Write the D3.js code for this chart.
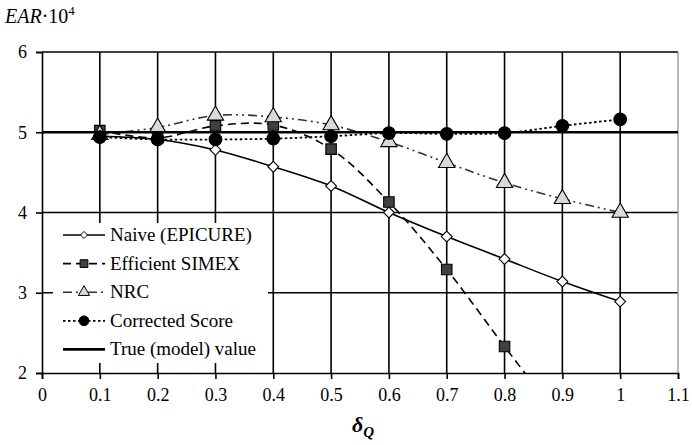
<!DOCTYPE html>
<html>
<head>
<meta charset="utf-8">
<script src="https://cdnjs.cloudflare.com/ajax/libs/d3/7.8.5/d3.min.js"></script>
<style>
  body { margin: 0; background: #fff; }
  svg text { font-family: "Liberation Serif", "Times New Roman", Times, serif !important; }
</style>
</head>
<body>
<div id="chart"></div>
<script>
// data
var deltaQ = [0.1, 0.2, 0.3, 0.4, 0.5, 0.6, 0.7, 0.8, 0.9, 1.0];
var naive = [4.95, 4.91, 4.78, 4.57, 4.33, 4.0, 3.70, 3.42, 3.14, 2.89];
var simexX = [0.1, 0.2, 0.3, 0.4, 0.5, 0.6, 0.7, 0.8, 0.9];
var simex = [5.02, 4.93, 5.08, 5.09, 4.79, 4.13, 3.29, 2.33, 1.4];
var nrc = [4.97, 5.06, 5.21, 5.19, 5.09, 4.88, 4.62, 4.37, 4.17, 4.0];
var corrected = [4.94, 4.91, 4.91, 4.92, 4.95, 4.99, 4.98, 4.99, 5.08, 5.16];
var trueX = [0, 1.1];
var trueVal = [5, 5];
var xTicks = [0, 0.1, 0.2, 0.3, 0.4, 0.5, 0.6, 0.7, 0.8, 0.9, 1, 1.1];
var yTicks = [2, 3, 4, 5, 6];

var serif = "'Liberation Serif', 'Times New Roman', Times, serif";

var margin = {top: 52, right: 14, bottom: 72, left: 42},
    width = 692 - margin.left - margin.right,
    height = 445 - margin.top - margin.bottom;

var svg = d3.select("#chart")
    .append("svg")
    .attr("width", 692)
    .attr("height", 445)
    .attr("font-family", serif)
    .append("g")
    .attr("transform", "translate(" + margin.left + "," + margin.top + ")");

var x = d3.scaleLinear().domain([0, 1.1]).range([0, width]);
var y = d3.scaleLinear().domain([2, 6]).range([height, 0]);

svg.append("defs").append("clipPath").attr("id", "clip")
    .append("rect").attr("width", width).attr("height", height);

// vertical grid lines
svg.selectAll(".vgrid")
    .data(xTicks.slice(1, 11))
    .enter().append("line")
    .attr("x1", function (d) { return x(d); })
    .attr("x2", function (d) { return x(d); })
    .attr("y1", 0).attr("y2", height)
    .attr("stroke", "#000").attr("stroke-width", 1.6);

// horizontal grid lines
svg.selectAll(".hgrid")
    .data([3, 4, 5, 6])
    .enter().append("line")
    .attr("x1", 0).attr("x2", width)
    .attr("y1", function (d) { return y(d); })
    .attr("y2", function (d) { return y(d); })
    .attr("stroke", "#000").attr("stroke-width", 1.6);

// right border
svg.append("line")
    .attr("x1", width).attr("x2", width).attr("y1", 0).attr("y2", height)
    .attr("stroke", "#888").attr("stroke-width", 1.2);

// axes
var xAxis = svg.append("g")
    .attr("transform", "translate(0," + height + ")")
    .call(d3.axisBottom(x).tickValues(xTicks).tickSize(6).tickPadding(9)
        .tickFormat(function (d) { return d3.format("")(+d.toFixed(1)); }));
var yAxis = svg.append("g")
    .call(d3.axisLeft(y).tickValues(yTicks).tickSize(6).tickPadding(9).tickFormat(d3.format("d")));

[xAxis, yAxis].forEach(function (a) {
    a.attr("font-family", serif);
    a.select(".domain").attr("stroke", "#000").attr("stroke-width", 1.6);
    a.selectAll(".tick line").attr("stroke", "#000").attr("stroke-width", 1.6);
    a.selectAll("text").attr("fill", "#000").style("font-size", "18px");
});

var plot = svg.append("g").attr("clip-path", "url(#clip)");

function pts(xs, ys) {
    return xs.map(function (d, i) { return [d, ys[i]]; });
}
var smooth = d3.line()
    .x(function (d) { return x(d[0]); })
    .y(function (d) { return y(d[1]); })
    .curve(d3.curveCatmullRom.alpha(0.5));

var series = [
    {key: "Naive (EPICURE)", data: pts(deltaQ, naive), dash: null, stroke: "#000", sw: 1.6, marker: "diamond", fill: "#fff"},
    {key: "Efficient SIMEX", data: pts(simexX, simex), dash: "8,5", stroke: "#000", sw: 1.6, marker: "square", fill: "#404040"},
    {key: "NRC", data: pts(deltaQ, nrc), dash: "9,4,2,4,2,4", stroke: "#333", sw: 1.6, marker: "triangle", fill: "#d9d9d9"},
    {key: "Corrected Score", data: pts(deltaQ, corrected), dash: "2.5,2.5", stroke: "#000", sw: 1.8, marker: "circle", fill: "#000"}
];

var symbols = {
    diamond: d3.symbol().type(d3.symbolDiamond2).size(75),
    square: d3.symbol().type(d3.symbolSquare).size(110),
    triangle: d3.symbol().type(d3.symbolTriangle).size(115),
    circle: d3.symbol().type(d3.symbolCircle).size(125)
};

series.forEach(function (s) {
    plot.append("path")
        .datum(s.data)
        .attr("fill", "none")
        .attr("stroke", s.stroke)
        .attr("stroke-width", s.sw)
        .attr("stroke-dasharray", s.dash)
        .attr("d", smooth);
});

series.forEach(function (s) {
    plot.selectAll(".m-" + s.marker)
        .data(s.data.filter(function (d) { return d[1] >= 2; }))
        .enter().append("path")
        .attr("d", symbols[s.marker])
        .attr("transform", function (d) {
            return "translate(" + x(d[0]) + "," + y(d[1]) + ")";
        })
        .attr("fill", s.fill)
        .attr("stroke", "#000")
        .attr("stroke-width", 1.1);
});

// true value line
plot.append("path")
    .datum(pts(trueX, trueVal))
    .attr("fill", "none")
    .attr("stroke", "#000")
    .attr("stroke-width", 2.6)
    .attr("d", d3.line().x(function (d) { return x(d[0]); }).y(function (d) { return y(d[1]); }));

// legend
var legend = svg.append("g").attr("transform", "translate(11,171)");
legend.append("rect")
    .attr("width", 215).attr("height", 140)
    .attr("fill", "#fff");

var legendItems = series.concat([{key: "True (model) value", dash: null, stroke: "#000", sw: 2.6, marker: null}]);
var smallSymbols = {
    diamond: d3.symbol().type(d3.symbolDiamond2).size(32),
    square: d3.symbol().type(d3.symbolSquare).size(60),
    triangle: d3.symbol().type(d3.symbolTriangle).size(55),
    circle: d3.symbol().type(d3.symbolCircle).size(75)
};
legendItems.forEach(function (s, i) {
    var g = legend.append("g").attr("transform", "translate(0," + (12 + i * 28.6) + ")");
    g.append("line")
        .attr("x1", 10).attr("x2", 52).attr("y1", 0).attr("y2", 0)
        .attr("stroke", s.stroke).attr("stroke-width", s.sw)
        .attr("stroke-dasharray", s.dash);
    if (s.marker) {
        g.append("path").attr("d", smallSymbols[s.marker])
            .attr("transform", "translate(31,0)")
            .attr("fill", s.fill).attr("stroke", "#000").attr("stroke-width", 1);
    }
    g.append("text")
        .attr("x", 57).attr("y", 6)
        .style("font-size", "19px")
        .text(s.key);
});

// axis titles
var title = d3.select("svg").append("text")
    .attr("x", 5).attr("y", 23)
    .style("font-size", "20px");
title.append("tspan").style("font-style", "italic").text("EAR");
title.append("tspan").text("\u00b710");
title.append("tspan").attr("dy", -8).style("font-size", "13px").text("4");

var xt = d3.select("svg").append("text")
    .attr("x", 352).attr("y", 432)
    .style("font-size", "22px").style("font-weight", "bold").style("font-style", "italic");
xt.append("tspan").text("\u03b4");
xt.append("tspan").attr("dy", 5).style("font-size", "15px").text("Q");
</script>
</body>
</html>
